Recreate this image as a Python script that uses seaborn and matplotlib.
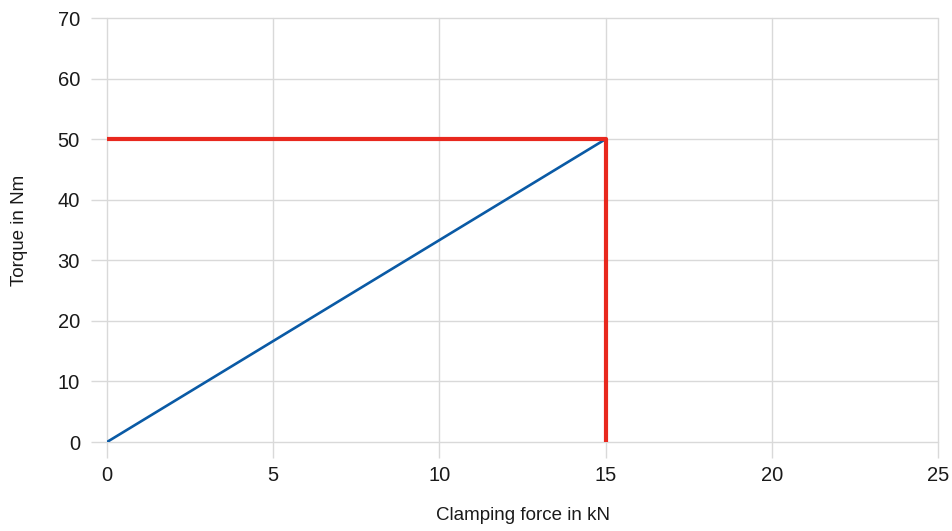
import numpy as np
import pandas as pd
import matplotlib
matplotlib.use("Agg")
import matplotlib.pyplot as plt
import seaborn as sns

# data
force_kn = [0, 15]
torque_nm = [0, 50]
limit_force = [0, 15, 15]
limit_torque = [50, 50, 0]

x_ticks = [0, 5, 10, 15, 20, 25]
y_ticks = [0, 10, 20, 30, 40, 50, 60, 70]

sns.set_theme(style="white")
plt.rcParams["font.family"] = ["Liberation Sans", "DejaVu Sans"]

fig = plt.figure(figsize=(9.52, 5.31), dpi=100)
ax = fig.add_axes([0.1124, 0.1676, 0.8729, 0.7985])

line_df = pd.DataFrame({"force": force_kn, "torque": torque_nm})
limit_df = pd.DataFrame({"force": limit_force, "torque": limit_torque})

sns.lineplot(data=line_df, x="force", y="torque", ax=ax, color="#0a5aa5",
             linewidth=1.9, zorder=3)
sns.lineplot(data=limit_df, x="force", y="torque", ax=ax, color="#e8281e",
             linewidth=3.0, sort=False, estimator=None, zorder=4)

ax.set_xlim(0, 25)
ax.set_ylim(0, 70)
ax.set_xticks(x_ticks)
ax.set_yticks(y_ticks)
ax.grid(True, color="#d9d9d9", linewidth=1.0)
# keep the edge gridlines (y=0, x=25) fully visible
for gl in ax.get_xgridlines() + ax.get_ygridlines():
    gl.set_clip_on(False)
for s in ax.spines.values():
    s.set_visible(False)
ax.tick_params(axis="both", bottom=True, left=True, length=11.5, width=1.0,
               color="#d9d9d9", labelsize=14.5, labelcolor="#1a1a1a")
ax.tick_params(axis="x", pad=6)
ax.tick_params(axis="y", pad=8)

ax.set_xlabel("Clamping force in kN", fontsize=13.5, color="#1a1a1a")
ax.set_ylabel("Torque in Nm", fontsize=13.5, color="#1a1a1a")
ax.xaxis.set_label_coords(0.5, -0.153)
ax.yaxis.set_label_coords(-0.095, 0.5)

fig.savefig("out.png", dpi=100)
